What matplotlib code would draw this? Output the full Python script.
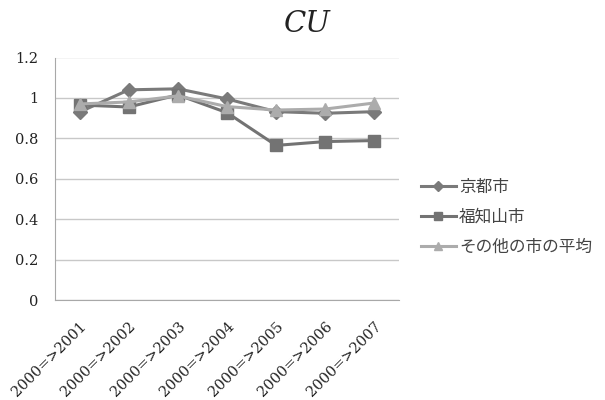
import matplotlib
matplotlib.use("Agg")
import matplotlib.pyplot as plt
from matplotlib.ticker import MultipleLocator, FuncFormatter

plt.rcParams['font.family'] = ['DejaVu Serif']

categories = ["2000=>2001", "2000=>2002", "2000=>2003", "2000=>2004",
              "2000=>2005", "2000=>2006", "2000=>2007"]
kyoto = [0.93, 1.04, 1.045, 0.995, 0.932, 0.924, 0.932]
fukuchiyama = [0.965, 0.955, 1.015, 0.927, 0.765, 0.784, 0.789]
others_avg = [0.97, 0.98, 1.01, 0.957, 0.94, 0.945, 0.975]
series_names = ["京都市", "福知山市", "その他の市の平均"]

fig = plt.figure(figsize=(6.05, 4.0), dpi=100)
ax = fig.add_axes([55 / 605, 100 / 400, 344 / 605, 242.5 / 400])

x = list(range(len(categories)))
ax.plot(x, kyoto, color="#7a7a7a", lw=2.2, marker="D", ms=7,
        label=series_names[0], zorder=3)
ax.plot(x, fukuchiyama, color="#737373", lw=2.2, marker="s", ms=8.5,
        label=series_names[1], zorder=4)
ax.plot(x, others_avg, color="#acacac", lw=2.2, marker="^", ms=8.5,
        label=series_names[2], zorder=5)

ax.set_xlim(-0.5, len(categories) - 0.5)
ax.set_ylim(0, 1.2)
ax.yaxis.set_major_locator(MultipleLocator(0.2))
ax.yaxis.set_major_formatter(FuncFormatter(lambda v, p: f"{v:g}"))
ax.grid(axis="y", color="#c8c8c8", lw=1)
ax.set_axisbelow(True)

for s in ["top", "right"]:
    ax.spines[s].set_visible(False)
for s in ["left", "bottom"]:
    ax.spines[s].set_color("#a8a8a8")
ax.tick_params(axis="both", length=0, labelsize=10.5, colors="#222222")
ax.tick_params(axis="y", pad=12)
ax.set_xticks(x)
ax.set_xticklabels(categories, rotation=45, ha="right", rotation_mode="anchor")
ax.tick_params(axis="x", pad=14, labelsize=10.5)

fig.text(307 / 605, 1 - 24 / 400, "CU", fontsize=21, style="italic",
         ha="center", va="center", family="DejaVu Serif", color="#222222")

leg = ax.legend(loc="center left", bbox_to_anchor=(1.02, 0.34), frameon=False,
                prop={"family": ["Noto Sans CJK JP", "DejaVu Sans"], "size": 12},
                handlelength=2.1, handletextpad=0.2, labelspacing=0.78,
                markerscale=0.75)
for t in leg.get_texts():
    t.set_color("#444444")

fig.savefig("out.png", dpi=100)
